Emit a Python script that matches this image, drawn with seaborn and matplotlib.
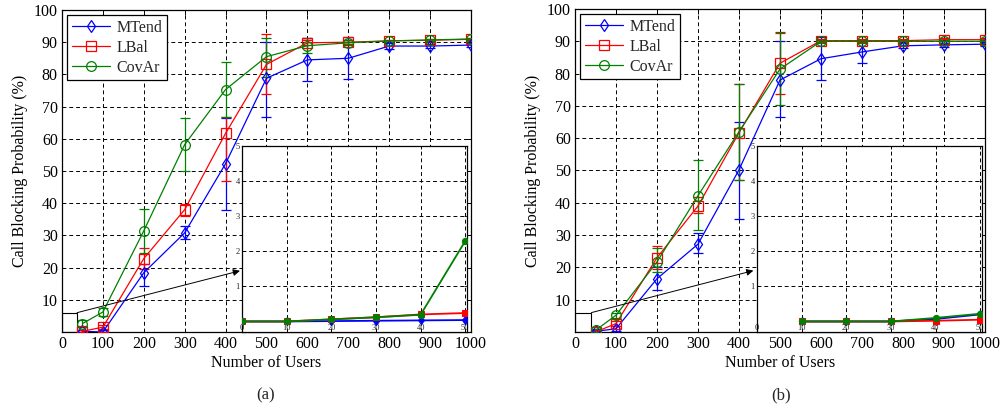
import numpy as np
import pandas as pd
import seaborn as sns
import matplotlib.pyplot as plt
from matplotlib.patches import Rectangle

users = [50, 100, 200, 300, 400, 500, 600, 700, 800, 900, 1000]
schemes = ['MTend', 'LBal', 'CovAr']

# panel (a): mean, lower and upper bound of the error bars
mtend_a = [0.2, 0.0, 18.4, 30.8, 52.3, 78.8, 84.5, 85.0, 88.8, 88.8, 89.1]
mtend_a_lo = [0.0, 0.0, 14.3, 28.8, 38.0, 66.8, 77.9, 78.5, 88.0, 88.2, 88.5]
mtend_a_hi = [0.5, 0.5, 21.0, 33.0, 66.6, 90.2, 91.4, 91.7, 89.6, 89.4, 89.7]
lbal_a = [0.2, 1.5, 22.8, 38.0, 61.7, 83.1, 89.8, 90.0, 90.4, 90.6, 90.9]
lbal_a_lo = [0.0, 0.8, 19.5, 36.0, 46.8, 73.8, 89.0, 89.4, 90.0, 90.2, 90.5]
lbal_a_hi = [0.5, 2.2, 26.2, 39.9, 66.8, 92.4, 90.6, 90.6, 90.8, 91.0, 91.3]
covar_a = [2.6, 6.2, 31.4, 58.2, 75.3, 85.5, 88.9, 89.8, 90.4, 90.7, 91.0]
covar_a_lo = [1.5, 5.0, 24.5, 50.0, 66.8, 79.3, 86.5, 89.0, 90.0, 90.3, 90.6]
covar_a_hi = [3.7, 7.4, 38.3, 66.3, 83.8, 91.2, 91.2, 90.6, 90.8, 91.1, 91.4]

# panel (b)
mtend_b = [0.2, 1.0, 16.5, 27.2, 50.2, 78.0, 84.6, 86.7, 88.6, 88.9, 89.1]
mtend_b_lo = [0.0, 0.3, 12.9, 24.3, 34.9, 66.5, 78.1, 83.2, 87.8, 88.2, 88.4]
mtend_b_hi = [0.5, 1.7, 20.2, 30.5, 65.1, 90.0, 91.3, 90.0, 89.4, 89.6, 89.8]
lbal_b = [0.0, 2.6, 23.0, 39.0, 61.7, 83.2, 90.2, 90.2, 90.2, 90.5, 90.5]
lbal_b_lo = [0.0, 1.8, 19.6, 36.7, 47.0, 73.7, 89.8, 89.8, 89.8, 90.1, 90.1]
lbal_b_hi = [0.4, 3.4, 26.7, 41.9, 76.8, 92.6, 90.6, 90.6, 90.6, 90.9, 90.9]
covar_b = [0.5, 5.2, 21.7, 42.2, 62.0, 81.4, 90.0, 90.0, 90.0, 90.0, 90.0]
covar_b_lo = [0.0, 4.4, 18.6, 31.5, 47.0, 70.3, 89.6, 89.6, 89.6, 89.6, 89.6]
covar_b_hi = [1.0, 6.0, 25.9, 53.3, 76.8, 92.8, 90.4, 90.4, 90.4, 90.4, 90.4]

# zoomed insets (first 50 users)
inset_users_a = [0, 10, 20, 30, 40, 50]
mtend_in_a = [0.0, 0.0, 0.01, 0.02, 0.03, 0.04]
lbal_in_a = [0.0, 0.0, 0.06, 0.12, 0.20, 0.24]
covar_in_a = [0.0, 0.0, 0.06, 0.12, 0.19, 2.29]
inset_users_b = [10, 20, 30, 40, 50]
mtend_in_b = [0.0, 0.0, 0.0, 0.07, 0.20]
lbal_in_b = [0.0, 0.0, 0.0, 0.02, 0.05]
covar_in_b = [0.0, 0.0, 0.0, 0.10, 0.22]

colors = {'MTend': '#0000ff', 'LBal': '#ff0000', 'CovAr': '#008000'}
markers = {'MTend': 'd', 'LBal': 's', 'CovAr': 'o'}
msize = {'MTend': 6.5, 'LBal': 6.5, 'CovAr': 7}

sns.set_theme(style="white")
plt.rcParams['font.family'] = ['Liberation Serif', 'DejaVu Serif']
plt.rcParams['xtick.direction'] = 'in'
plt.rcParams['ytick.direction'] = 'in'

fig = plt.figure(figsize=(10.03, 4.09), dpi=100)
fig.patch.set_facecolor('white')

GRID = dict(color='black', linestyle=(0, (4, 3)), linewidth=0.7)


def main_panel(ax, data, box_w):
    for name, (vals, lo, hi) in zip(schemes, data):
        df = pd.DataFrame({'users': users, 'p': vals})
        yerr = np.array([np.array(vals) - np.array(lo), np.array(hi) - np.array(vals)])
        ax.errorbar(users, vals, yerr=yerr, fmt='none', ecolor=colors[name],
                    elinewidth=0.9, capsize=3.5, capthick=0.9, zorder=3)
        sns.lineplot(data=df, x='users', y='p', ax=ax, color=colors[name],
                     marker=markers[name], markersize=msize[name],
                     markerfacecolor='none', markeredgecolor=colors[name],
                     markeredgewidth=0.9, linewidth=0.9, label=name, zorder=4)
    ax.set_xlim(0, 1000)
    ax.set_ylim(0, 100)
    ax.set_xticks(range(0, 1001, 100))
    ax.set_yticks(range(10, 101, 10))
    ax.grid(True, **GRID)
    ax.set_axisbelow(True)
    ax.tick_params(labelsize=11.5, top=True, right=True, length=3.5,
                   width=0.7, color='black', pad=3, labelcolor='black')
    for s in ax.spines.values():
        s.set_color('black')
        s.set_linewidth(0.9)
    ax.set_xlabel('Number of Users', fontsize=11.5, labelpad=2, color='black')
    ax.set_ylabel('Call Blocking Probability (%)', fontsize=11.5, labelpad=4,
                  color='black')
    leg = ax.legend(loc='upper left', fontsize=11.5, frameon=True, fancybox=False,
                    framealpha=1, edgecolor='black', handlelength=2.4,
                    borderaxespad=0.3, labelspacing=0.25, borderpad=0.3,
                    handletextpad=0.4)
    leg.get_frame().set_linewidth(0.9)
    ax.add_patch(Rectangle((0, 0), box_w, 6, facecolor='white', edgecolor='black',
                           linewidth=0.8, zorder=2.5))
    ax.annotate('', xy=(435, 19), xytext=(box_w, 6),
                arrowprops=dict(arrowstyle='-|>', color='black', lw=0.7,
                                mutation_scale=10, shrinkA=0, shrinkB=0),
                zorder=5)


def inset_panel(ax, xs, data):
    for name, vals in zip(schemes, data):
        df = pd.DataFrame({'users': xs, 'p': vals})
        sns.lineplot(data=df, x='users', y='p', ax=ax, color=colors[name],
                     marker=markers[name], markersize=4.5, markerfacecolor=colors[name],
                     markeredgecolor=colors[name], linewidth=1.3, legend=False,
                     zorder=4)
    ax.set_xlim(0, 50.4)
    ax.set_ylim(-0.3, 5)
    ax.set_xticks(range(0, 51, 10))
    ax.set_yticks([1, 2, 3, 4, 5])
    ax.set_facecolor('white')
    ax.grid(True, **GRID)
    ax.set_axisbelow(True)
    ax.tick_params(axis='both', labelsize=6, length=2, width=0.6, color='black',
                   labelcolor='#222222', top=True, right=True)
    ax.tick_params(axis='x', pad=-5.5)
    ax.tick_params(axis='y', pad=1.5)
    for lab in ax.get_xticklabels():
        lab.set_zorder(6)
    ax.set_xlabel('')
    ax.set_ylabel('')
    for s in ax.spines.values():
        s.set_color('black')
        s.set_linewidth(0.9)


ax_a = fig.add_axes([0.0618, 0.1883, 0.4078, 0.7873])
main_panel(ax_a, [(mtend_a, mtend_a_lo, mtend_a_hi),
                  (lbal_a, lbal_a_lo, lbal_a_hi),
                  (covar_a, covar_a_lo, covar_a_hi)], 37)
ax_b = fig.add_axes([0.5733, 0.1883, 0.4087, 0.7897])
main_panel(ax_b, [(mtend_b, mtend_b_lo, mtend_b_hi),
                  (lbal_b, lbal_b_lo, lbal_b_hi),
                  (covar_b, covar_b_lo, covar_b_hi)], 40)

in_a = fig.add_axes([0.2413, 0.1883, 0.2243, 0.4547])
inset_panel(in_a, inset_users_a, [mtend_in_a, lbal_in_a, covar_in_a])
in_b = fig.add_axes([0.7547, 0.1883, 0.2243, 0.4547])
inset_panel(in_b, inset_users_b, [mtend_in_b, lbal_in_b, covar_in_b])

fig.text(0.265, 0.034, '(a)', fontsize=12, ha='center', va='center')
fig.text(0.779, 0.034, '(b)', fontsize=12, ha='center', va='center')

fig.savefig('out.png', dpi=100, facecolor='white')
